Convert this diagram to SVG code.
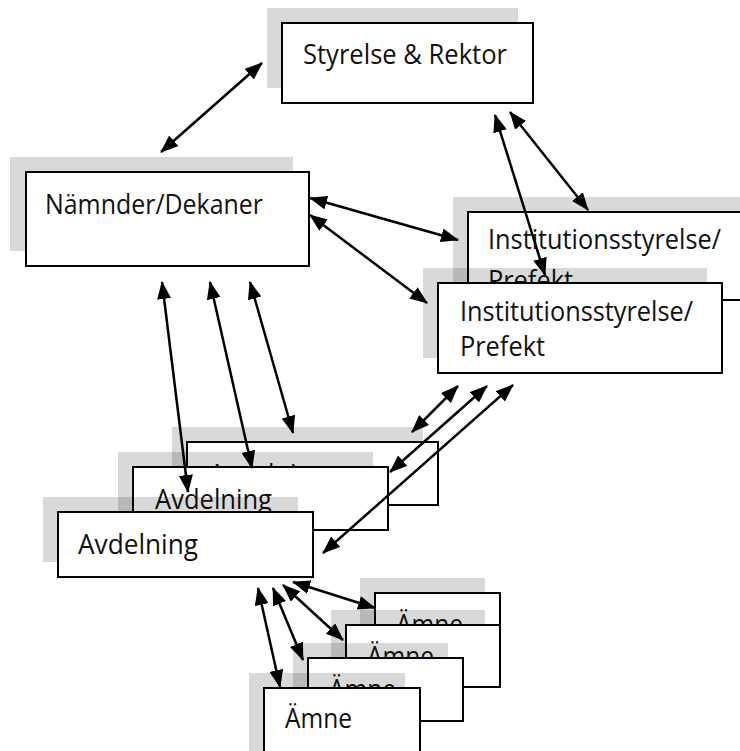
<svg xmlns="http://www.w3.org/2000/svg" width="740" height="751" viewBox="0 0 740 751">
  <style>
    .box { fill: #ffffff; stroke: #000000; stroke-width: 2; }
    .shadow { fill: #000000; fill-opacity: 0.15; stroke: none; }
    .label { font-family: "Open Sans", "Liberation Sans", sans-serif; font-size: 28px; fill: #111111; }
    .link { stroke: #000000; stroke-width: 2.5; fill: none; marker-start: url(#head); marker-end: url(#head); }
  </style>
  <defs>
    <marker id="head" viewBox="0 0 18 14" refX="17" refY="7" markerWidth="18" markerHeight="14" markerUnits="userSpaceOnUse" orient="auto-start-reverse">
      <path d="M0,0 L18,7 L0,14 z" fill="#000000"/>
    </marker>
  </defs>
  <rect width="740" height="751" fill="#ffffff"/>

  <!-- Top level -->
  <g id="styrelse-rektor">
    <rect class="shadow" x="267" y="8" width="251" height="80"/>
    <rect class="box" x="282" y="23" width="251" height="80"/>
    <text class="label" x="303" y="64" textLength="204" lengthAdjust="spacingAndGlyphs">Styrelse &amp; Rektor</text>
  </g>

  <g id="namnder-dekaner">
    <rect class="shadow" x="10" y="157" width="283" height="94"/>
    <rect class="box" x="26" y="172" width="283" height="94"/>
    <text class="label" x="45" y="214" textLength="218" lengthAdjust="spacingAndGlyphs">Nämnder/Dekaner</text>
  </g>

  <!-- Department boards, two stacked -->
  <g id="institution-back">
    <rect class="shadow" x="453" y="197" width="300" height="88"/>
    <rect class="box" x="468" y="212" width="290" height="88"/>
    <text class="label" x="488" y="249" textLength="233" lengthAdjust="spacingAndGlyphs">Institutionsstyrelse/</text>
    <text class="label" x="488" y="290" textLength="85" lengthAdjust="spacingAndGlyphs">Prefekt</text>
  </g>

  <g id="institution-front">
    <rect class="shadow" x="423" y="268" width="284" height="90"/>
    <rect class="box" x="438" y="283" width="284" height="90"/>
    <text class="label" x="460" y="321" textLength="233" lengthAdjust="spacingAndGlyphs">Institutionsstyrelse/</text>
    <text class="label" x="460" y="356" textLength="85" lengthAdjust="spacingAndGlyphs">Prefekt</text>
  </g>

  <!-- Divisions, three stacked -->
  <g id="avdelning-3">
    <rect class="shadow" x="172" y="427" width="251" height="63"/>
    <rect class="box" x="187" y="442" width="251" height="63"/>
    <text class="label" x="209" y="484" textLength="117" lengthAdjust="spacingAndGlyphs">Avdelning</text>
  </g>

  <g id="avdelning-2">
    <rect class="shadow" x="118" y="452" width="255" height="63"/>
    <rect class="box" x="133" y="467" width="255" height="63"/>
    <text class="label" x="155" y="509" textLength="117" lengthAdjust="spacingAndGlyphs">Avdelning</text>
  </g>

  <g id="avdelning-1">
    <rect class="shadow" x="43" y="497" width="255" height="65"/>
    <rect class="box" x="58" y="512" width="255" height="65"/>
    <text class="label" x="78" y="554" textLength="120" lengthAdjust="spacingAndGlyphs">Avdelning</text>
  </g>

  <!-- Subjects, four stacked -->
  <g id="amne-4">
    <rect class="shadow" x="360" y="578" width="125" height="62"/>
    <rect class="box" x="375" y="593" width="125" height="62"/>
    <text class="label" x="396" y="634" textLength="67" lengthAdjust="spacingAndGlyphs">Ämne</text>
  </g>

  <g id="amne-3">
    <rect class="shadow" x="331" y="610" width="154" height="62"/>
    <rect class="box" x="346" y="625" width="154" height="62"/>
    <text class="label" x="367" y="666" textLength="67" lengthAdjust="spacingAndGlyphs">Ämne</text>
  </g>

  <g id="amne-2">
    <rect class="shadow" x="293" y="643" width="155" height="63"/>
    <rect class="box" x="308" y="658" width="155" height="63"/>
    <text class="label" x="329" y="699" textLength="67" lengthAdjust="spacingAndGlyphs">Ämne</text>
  </g>

  <g id="amne-1">
    <rect class="shadow" x="249" y="673" width="156" height="80"/>
    <rect class="box" x="264" y="688" width="156" height="70"/>
    <text class="label" x="285" y="728" textLength="67" lengthAdjust="spacingAndGlyphs">Ämne</text>
  </g>

  <!-- Two-way connectors -->
  <g id="connectors">
    <line class="link" x1="262" y1="63" x2="161" y2="152"/>
    <line class="link" x1="310" y1="198" x2="458" y2="240"/>
    <line class="link" x1="310" y1="215" x2="427" y2="303"/>
    <line class="link" x1="495" y1="115" x2="545" y2="275"/>
    <line class="link" x1="510" y1="112" x2="588" y2="210"/>

    <line class="link" x1="162" y1="282" x2="188" y2="492"/>
    <line class="link" x1="210" y1="282" x2="252" y2="468"/>
    <line class="link" x1="250" y1="282" x2="293" y2="433"/>

    <line class="link" x1="458" y1="386" x2="412" y2="432"/>
    <line class="link" x1="487" y1="386" x2="390" y2="472"/>
    <line class="link" x1="513" y1="385" x2="323" y2="553"/>

    <line class="link" x1="258" y1="588" x2="280" y2="687"/>
    <line class="link" x1="273" y1="588" x2="303" y2="660"/>
    <line class="link" x1="283" y1="585" x2="343" y2="640"/>
    <line class="link" x1="293" y1="582" x2="375" y2="608"/>
  </g>
</svg>
